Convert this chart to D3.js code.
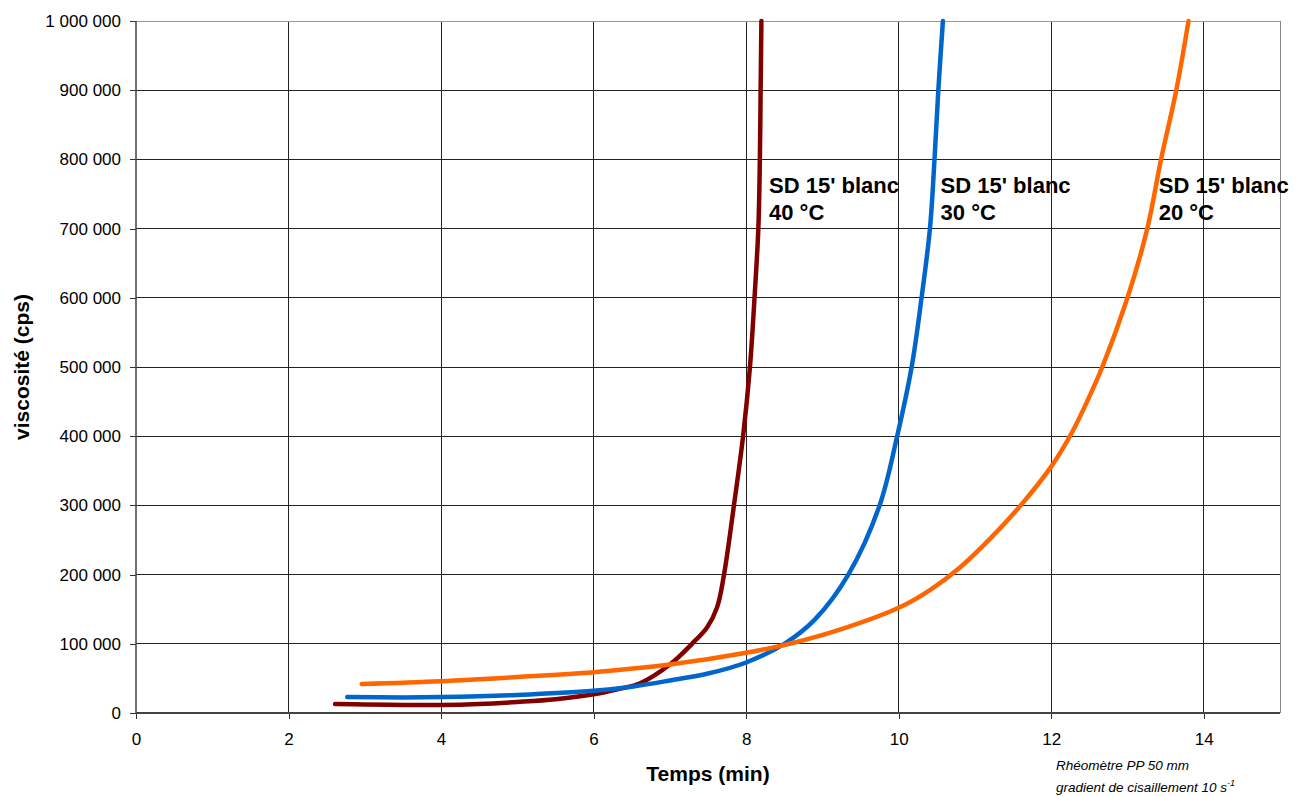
<html>
<head>
<meta charset="utf-8">
<style>
    body { margin: 0; background: #fff; }
    svg { font-family: Arial, 'Liberation Sans', sans-serif; }
    .grid line { stroke: #222; stroke-width: 1; shape-rendering: crispEdges; }
    .axis text { font-size: 17px; fill: #000; }
    .axis line { stroke: #333; shape-rendering: crispEdges; }
    .axis .domain { display: none; }
    .curve { fill: none; stroke-width: 4.5px; stroke-linecap: round; stroke-linejoin: round; }
    .label { font-size: 22px; font-weight: bold; fill: #000; }
    .title { font-size: 21px; font-weight: bold; fill: #000; }
    .note { font-size: 13.5px; font-style: italic; fill: #000; }
</style>
</head>
<body>
<svg width="1303" height="796"></svg>

<script src="https://d3js.org/d3.v7.min.js"></script>
<script>
    // temps (min) / viscosité (cps)
    let t40 = [2.61, 3.0, 3.5, 4.0, 4.5, 5.0, 5.5, 6.0, 6.3, 6.61, 7.0, 7.29, 7.49, 7.62, 7.71, 7.84, 7.96, 8.05, 8.11, 8.16, 8.18, 8.19, 8.2]
    let v40 = [13000, 12300, 11700, 11500, 13000, 16000, 20000, 27000, 34000, 43000, 70000, 100000, 124000, 153000, 200000, 300000, 400000, 500000, 600000, 700000, 800000, 900000, 1000000]

    let t30 = [2.77, 3.5, 4.0, 5.0, 6.0, 6.5, 7.0, 7.5, 8.0, 8.5, 8.9, 9.34, 9.75, 9.98, 10.17, 10.30, 10.41, 10.47, 10.52, 10.58]
    let v30 = [23000, 22500, 23000, 26000, 32000, 38000, 47000, 57000, 73000, 100000, 135000, 200000, 300000, 400000, 500000, 600000, 700000, 800000, 900000, 1000000]

    let t20 = [2.96, 4.0, 5.0, 6.0, 7.0, 8.0, 8.57, 9.3, 10.0, 10.4, 10.8, 11.2, 11.6, 12.0, 12.27, 12.47, 12.67, 13.0, 13.26, 13.44, 13.64, 13.8]
    let v20 = [42000, 46000, 52000, 59000, 70000, 87000, 100000, 123000, 152000, 177000, 210000, 252000, 300000, 356000, 405000, 450000, 500000, 600000, 700000, 800000, 900000, 1000000]

    let seriesNames = ["SD 15' blanc|40 °C", "SD 15' blanc|30 °C", "SD 15' blanc|20 °C"]
    let seriesColors = ["#800000", "#0066CC", "#FF6600"]
    let labelPos = [[8.3, 751000], [10.55, 751000], [13.41, 751000]]

    let xTicks = [0, 2, 4, 6, 8, 10, 12, 14]
    let yTicks = [0, 100000, 200000, 300000, 400000, 500000, 600000, 700000, 800000, 900000, 1000000]

    let margin = {top: 21, right: 23, bottom: 83, left: 136}
    let width = 1303, height = 796

    let svg = d3.select("svg")

    let x = d3.scaleLinear().domain([0, 15]).range([margin.left, width - margin.right])
    let y = d3.scaleLinear().domain([0, 1000000]).range([height - margin.bottom, margin.top])

    let fr = d3.formatLocale({decimal: ",", thousands: " ", grouping: [3], currency: ["", ""]})
    let fmt = fr.format(",")

    // quadrillage
    let grid = svg.append("g").attr("class", "grid")
    grid.selectAll(".h").data(yTicks.slice(1)).join("line")
        .attr("x1", x(0)).attr("x2", x(15))
        .attr("y1", d => y(d)).attr("y2", d => y(d))
    grid.selectAll(".v").data(xTicks.slice(1)).join("line")
        .attr("x1", d => x(d)).attr("x2", d => x(d))
        .attr("y1", y(0)).attr("y2", y(1000000))
    // cadre
    svg.append("line").attr("x1", x(15)).attr("x2", x(15)).attr("y1", y(0)).attr("y2", y(1000000))
        .attr("stroke", "#888").attr("shape-rendering", "crispEdges")
    svg.append("line").attr("x1", x(0)).attr("x2", x(15)).attr("y1", y(1000000)).attr("y2", y(1000000))
        .attr("stroke", "#999").attr("shape-rendering", "crispEdges")

    svg.append("g").attr("class", "axis")
        .attr("transform", `translate(0, ${y(0)})`)
        .call(d3.axisBottom(x).tickValues(xTicks).tickSize(6).tickPadding(14).tickFormat(d3.format("d")))

    svg.append("g").attr("class", "axis")
        .attr("transform", `translate(${x(0)}, 0)`)
        .call(d3.axisLeft(y).tickValues(yTicks).tickSize(6).tickPadding(9).tickFormat(fmt))

    // axes
    svg.append("line").attr("x1", x(0)).attr("x2", x(15)).attr("y1", y(0)).attr("y2", y(0))
        .attr("stroke", "#444").attr("stroke-width", 2)
    svg.append("line").attr("x1", x(0)).attr("x2", x(0)).attr("y1", y(0)).attr("y2", y(1000000))
        .attr("stroke", "#444").attr("stroke-width", 1.5)

    let line = d3.line()
        .x(d => x(d[0]))
        .y(d => y(d[1]))
        .curve(d3.curveCatmullRom.alpha(0.5))

    let series = [d3.zip(t40, v40), d3.zip(t30, v30), d3.zip(t20, v20)]

    svg.append("g").selectAll("path")
        .data(series)
        .join("path")
        .attr("class", "curve")
        .attr("stroke", (d, i) => seriesColors[i])
        .attr("d", line)

    seriesNames.forEach((name, i) => {
        let parts = name.split("|")
        let tx = svg.append("text").attr("class", "label")
            .attr("x", x(labelPos[i][0])).attr("y", y(labelPos[i][1]))
        tx.append("tspan").text(parts[0])
        tx.append("tspan").attr("x", x(labelPos[i][0])).attr("dy", 27).text(parts[1])
    })

    svg.append("text").attr("class", "title")
        .attr("x", 708).attr("y", 781)
        .attr("text-anchor", "middle")
        .text("Temps (min)")

    svg.append("text").attr("class", "title")
        .attr("transform", `translate(29, ${(y(0) + y(1000000)) / 2}) rotate(-90)`)
        .attr("text-anchor", "middle")
        .text("viscosité (cps)")

    svg.append("text").attr("class", "note")
        .attr("x", 1056).attr("y", 770)
        .text("Rhéomètre PP 50 mm")

    let n2 = svg.append("text").attr("class", "note")
        .attr("x", 1056).attr("y", 792)
    n2.append("tspan").text("gradient de cisaillement 10 s")
    n2.append("tspan").attr("dy", -6).style("font-size", "9px").text("-1")
</script>
</body>
</html>
